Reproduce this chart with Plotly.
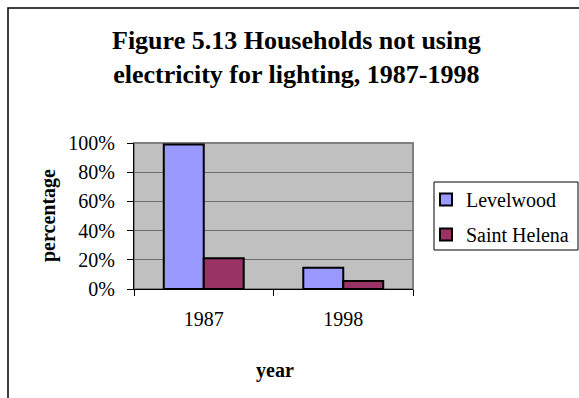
import plotly.graph_objects as go

# Share of households not using electricity for lighting
years = ["1987", "1998"]
levelwood = [0.99, 0.146]
saint_helena = [0.21, 0.055]
y_ticks = [0, 0.2, 0.4, 0.6, 0.8, 1.0]

FONT = "Liberation Serif, Times New Roman, serif"

fig = go.Figure()
fig.add_trace(go.Bar(
    name="Levelwood", x=years, y=levelwood, legendgroup="a",
    marker=dict(color="#9999FF", line=dict(color="black", width=2)),
))
fig.add_trace(go.Bar(
    name="Saint Helena", x=years, y=saint_helena, legendgroup="b",
    marker=dict(color="#993366", line=dict(color="black", width=2)),
))

W, H = 579, 398
L, R, T, B = 134, 166, 143, 109
pw, ph = W - L - R, H - T - B


def px_x(x):
    return (x - L) / pw


def px_y(y):
    return (H - B - y) / ph


fig.update_layout(
    width=W, height=H,
    margin=dict(l=L, r=R, t=T, b=B, pad=0, autoexpand=False),
    paper_bgcolor="white",
    plot_bgcolor="#C0C0C0",
    barmode="group", bargap=0.427, bargroupgap=0,
    font=dict(family=FONT, size=20, color="black"),
    showlegend=True,
    legend=dict(
        x=px_x(426), y=px_y(180), xanchor="left", yanchor="top",
        bgcolor="rgba(0,0,0,0)", borderwidth=0,
        font=dict(family=FONT, size=20, color="black"),
        traceorder="grouped", tracegroupgap=6, itemwidth=30,
    ),
    xaxis=dict(
        showline=True, linecolor="black", linewidth=1,
        ticks="outside", ticklen=6, tickcolor="black", tickson="boundaries",
        ticklabelstandoff=12, showgrid=False, zeroline=False,
        tickfont=dict(family=FONT, size=20),
    ),
    yaxis=dict(
        range=[0, 1], tickvals=y_ticks, tickformat=".0%",
        showline=True, linecolor="black", linewidth=1,
        ticks="outside", ticklen=6, tickcolor="black",
        ticklabelstandoff=8,
        showgrid=True, gridcolor="#6E6E6E", gridwidth=1, zeroline=False,
        tickfont=dict(family=FONT, size=20),
    ),
    shapes=[
        # plot area border
        dict(type="rect", xref="paper", yref="paper", x0=0, x1=1, y0=0, y1=1,
             line=dict(color="#808080", width=2), layer="below"),
        # legend box
        dict(type="rect", xref="paper", yref="paper",
             x0=px_x(434), x1=px_x(578), y0=px_y(250), y1=px_y(182),
             line=dict(color="black", width=1)),
        # chart frame
        dict(type="rect", xref="paper", yref="paper",
             x0=px_x(8), x1=px_x(W + 20), y0=px_y(H + 20), y1=px_y(8),
             line=dict(color="black", width=1.5)),
    ],
    annotations=[
        dict(text="<b>Figure 5.13 Households not using<br>electricity for lighting, 1987-1998</b>",
             xref="paper", yref="paper", x=px_x(296), y=px_y(57),
             xanchor="center", yanchor="middle", showarrow=False,
             font=dict(family=FONT, size=26, color="black")),
        dict(text="<b>year</b>", xref="paper", yref="paper",
             x=px_x(275), y=px_y(370), xanchor="center", yanchor="middle",
             showarrow=False, font=dict(family=FONT, size=20, color="black")),
        dict(text="<b>percentage</b>", xref="paper", yref="paper",
             x=px_x(48), y=0.5, xanchor="center", yanchor="middle",
             textangle=-90, showarrow=False,
             font=dict(family=FONT, size=20, color="black")),
    ],
)

fig.write_html("out.html")
